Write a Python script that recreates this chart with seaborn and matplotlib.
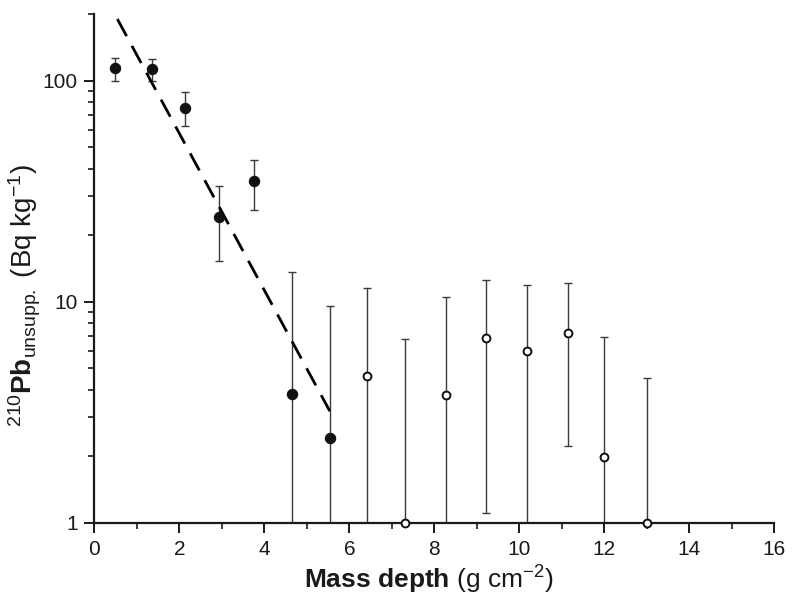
import numpy as np
import pandas as pd
import matplotlib
matplotlib.use("Agg")
import matplotlib.pyplot as plt
import seaborn as sns
from matplotlib.ticker import LogLocator, FixedLocator, NullFormatter

depth = [0.49, 1.35, 2.13, 2.92, 3.76, 4.66, 5.54,
         6.42, 7.31, 8.28, 9.22, 10.18, 11.14, 12.0, 13.0]
pb210 = [113.6, 112.5, 75.6, 24.3, 35.2, 3.83, 2.43,
         4.63, 1.0, 3.77, 6.84, 5.97, 7.2, 1.99, 1.0]
err_top = [127, 125.7, 89.2, 33.4, 43.9, 13.6, 9.6,
           11.5, 6.76, 10.5, 12.5, 11.9, 12.1, 6.96, 4.5]
# lower ends; 0 means the bar runs off the bottom of the axis
err_bot = [100, 99.7, 62.2, 15.3, 26.1, 0, 0,
           0, 0, 0, 1.106, 0, 2.23, 0, 0]
kind = ["fitted"] * 7 + ["excluded"] * 8

# dashed regression line end points
fit_x = [0.54, 5.54]
fit_y = [190, 3.2]

df = pd.DataFrame({"depth": depth, "pb": pb210, "kind": kind,
                   "top": err_top, "bot": err_bot})
fit = pd.DataFrame({"depth": fit_x, "pb": fit_y})

sns.set_theme(style="ticks")
plt.rcParams["font.family"] = ["Liberation Sans", "DejaVu Sans"]
plt.rcParams["mathtext.fontset"] = "custom"
plt.rcParams["mathtext.rm"] = "Liberation Sans"
plt.rcParams["mathtext.bf"] = "Liberation Sans:bold"
plt.rcParams["mathtext.it"] = "Liberation Sans:italic"

fig = plt.figure(figsize=(8, 6.13), dpi=100)
ax = fig.add_axes([0.118, 0.147, 0.850, 0.830])
ax.set_yscale("log")

# error bars
lo = np.where(df["bot"] > 0, df["pb"] - df["bot"], df["pb"] * 0.999)
hi = df["top"] - df["pb"]
ax.errorbar(df["depth"], df["pb"], yerr=[lo, hi],
            fmt="none", ecolor="#3a3a3a", elinewidth=1.0, capsize=3.2, capthick=1.0, zorder=2)

# fit line
sns.lineplot(data=fit, x="depth", y="pb", ax=ax, color="black", lw=2.0,
             dashes=False, zorder=3)
ax.lines[-1].set_dashes([7, 4])

# points
sns.scatterplot(data=df[df["kind"] == "fitted"], x="depth", y="pb", ax=ax,
                color="#111111", edgecolor="#111111", s=55, linewidth=0.8,
                zorder=5, clip_on=False, legend=False)
sns.scatterplot(data=df[df["kind"] == "excluded"], x="depth", y="pb", ax=ax,
                color="white", edgecolor="#111111", s=32, linewidth=1.4,
                zorder=5, clip_on=False, legend=False)

ax.set_xlim(0, 16)
ax.set_ylim(1, 200)
ax.xaxis.set_major_locator(FixedLocator(range(0, 17, 2)))
ax.xaxis.set_minor_locator(FixedLocator(range(1, 16, 2)))
ax.yaxis.set_major_locator(FixedLocator([1, 10, 100]))
ax.set_yticklabels(["1", "10", "100"])
ax.yaxis.set_minor_locator(LogLocator(base=10, subs=np.arange(2, 10)))
ax.yaxis.set_minor_formatter(NullFormatter())

for side in ["top", "right"]:
    ax.spines[side].set_visible(False)
for side in ["left", "bottom"]:
    ax.spines[side].set_linewidth(1.6)
    ax.spines[side].set_color("#1a1a1a")

ax.tick_params(which="major", direction="out", length=7, width=1.4,
               labelsize=15, color="#1a1a1a", labelcolor="#1a1a1a", pad=5)
ax.tick_params(which="minor", direction="out", length=4, width=1.2, color="#1a1a1a")

ax.set_xlabel(r"$\mathbf{Mass\ depth}$ (g cm$^{-2}$)", fontsize=19, color="#1a1a1a")
ax.xaxis.set_label_coords(0.492, -0.08)
ax.set_ylabel(r"$^{210}\mathbf{Pb}_{\mathrm{unsupp.}}$ (Bq kg$^{-1}$)", fontsize=20,
              color="#1a1a1a")
ax.yaxis.set_label_coords(-0.076, 0.446)

fig.savefig("out.png", dpi=100, facecolor="white")
